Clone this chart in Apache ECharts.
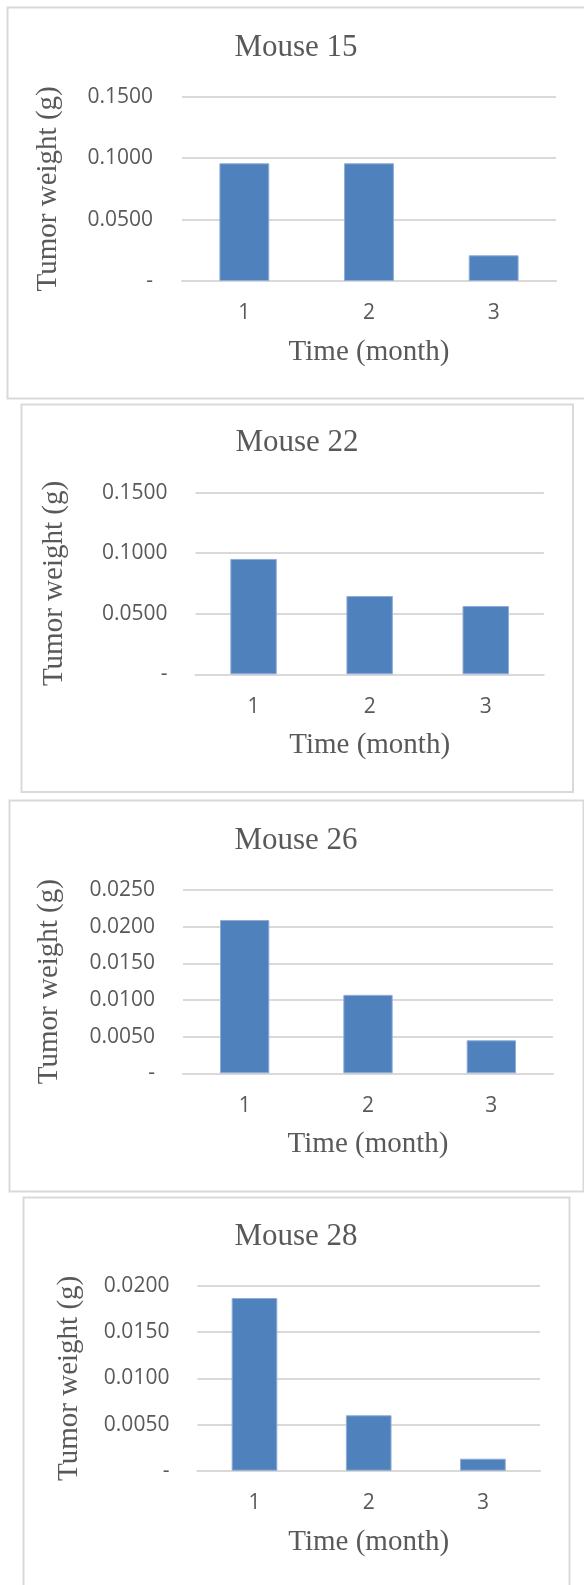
<!DOCTYPE html>
<html>
<head>
<meta charset="utf-8">
<script src="https://cdn.jsdelivr.net/npm/echarts@6/dist/echarts.min.js"></script>
<style>
  html, body { margin: 0; padding: 0; background: #fff; }
  #chart { width: 584px; height: 1585px; }
</style>
</head>
<body>
<div id="chart"></div>
<script>
// ---- data ----
const categories = ['1', '2', '3'];
const panelTitles = ['Mouse 15', 'Mouse 22', 'Mouse 26', 'Mouse 28'];
const mouse15 = [0.0958, 0.0958, 0.0209];
const mouse22 = [0.0953, 0.0647, 0.0564];
const mouse26 = [0.0209, 0.0107, 0.0045];
const mouse28 = [0.0187, 0.0060, 0.0013];
const yMax = [0.15, 0.15, 0.025, 0.02];
const yStep = [0.05, 0.05, 0.005, 0.005];
const xAxisTitle = 'Time (month)';
const yAxisTitle = 'Tumor weight (g)';

const seriesData = [mouse15, mouse22, mouse26, mouse28];

// ---- layout (positions / sizes) ----
const layout = [
  { frame: [7.5, 7.5, 580, 391], titleX: 296, titleY: 49, grid: { left: 182, top: 96.7, width: 374, height: 184.3 }, yName: 119, xName: 57, ylab: 29 },
  { frame: [21.5, 404.5, 551.5, 387.5], titleX: 297, titleY: 444.7, grid: { left: 195.5, top: 492.7, width: 348.3, height: 181.6 }, yName: 127, xName: 57, ylab: 28 },
  { frame: [9.5, 800.5, 574, 391], titleX: 296, titleY: 842, grid: { left: 183, top: 890, width: 370, height: 183.3 }, yName: 119, xName: 57, ylab: 28 },
  { frame: [23.5, 1197.5, 546, 400], titleX: 296, titleY: 1238.7, grid: { left: 197.4, top: 1286, width: 342.6, height: 184.7 }, yName: 114, xName: 57, ylab: 28 }
];

const serif = 'Liberation Serif';
const sans = 'Open Sans';
const textColor = '#595959';
const gridColor = '#d9d9d9';

const option = {
  animation: false,
  backgroundColor: '#ffffff',
  title: [], grid: [], xAxis: [], yAxis: [], series: [],
  graphic: []
};

layout.forEach((L, i) => {
  option.graphic.push({
    type: 'rect', silent: true, z: 0,
    shape: { x: L.frame[0], y: L.frame[1], width: L.frame[2], height: L.frame[3] },
    style: { fill: 'none', stroke: gridColor, lineWidth: 2 }
  });
  option.title.push({
    text: panelTitles[i],
    left: L.titleX, top: L.titleY - 17,
    textAlign: 'center', padding: 0,
    textStyle: { fontFamily: serif, fontSize: 31, fontWeight: 'normal', color: textColor }
  });
  option.grid.push(Object.assign({ containLabel: false }, L.grid));
  option.xAxis.push({
    type: 'category', gridIndex: i, data: categories,
    name: xAxisTitle, nameLocation: 'middle', nameGap: L.xName,
    nameTextStyle: { fontFamily: serif, fontSize: 29, color: textColor },
    axisLine: { show: true, lineStyle: { color: gridColor, width: 2 } },
    axisTick: { show: false },
    axisLabel: { fontFamily: sans, fontSize: 21, color: textColor, margin: 22 }
  });
  option.yAxis.push({
    type: 'value', gridIndex: i, min: 0, max: yMax[i], interval: yStep[i],
    name: yAxisTitle, nameLocation: 'middle', nameGap: L.yName,
    nameTextStyle: { fontFamily: serif, fontSize: 29, color: textColor },
    axisLine: { show: false }, axisTick: { show: false },
    splitLine: { show: true, lineStyle: { color: gridColor, width: 2 } },
    axisLabel: {
      fontFamily: sans, fontSize: 21, color: textColor, margin: L.ylab,
      formatter: v => (v === 0 ? '-' : v.toFixed(4))
    }
  });
  option.series.push({
    type: 'bar', xAxisIndex: i, yAxisIndex: i,
    data: seriesData[i], barWidth: '40%',
    itemStyle: { color: '#4F81BD', borderColor: '#8fadd6', borderWidth: 1 }
  });
});

const chart = echarts.init(document.getElementById('chart'), null, { renderer: 'canvas' });
chart.setOption(option);
</script>
</body>
</html>
